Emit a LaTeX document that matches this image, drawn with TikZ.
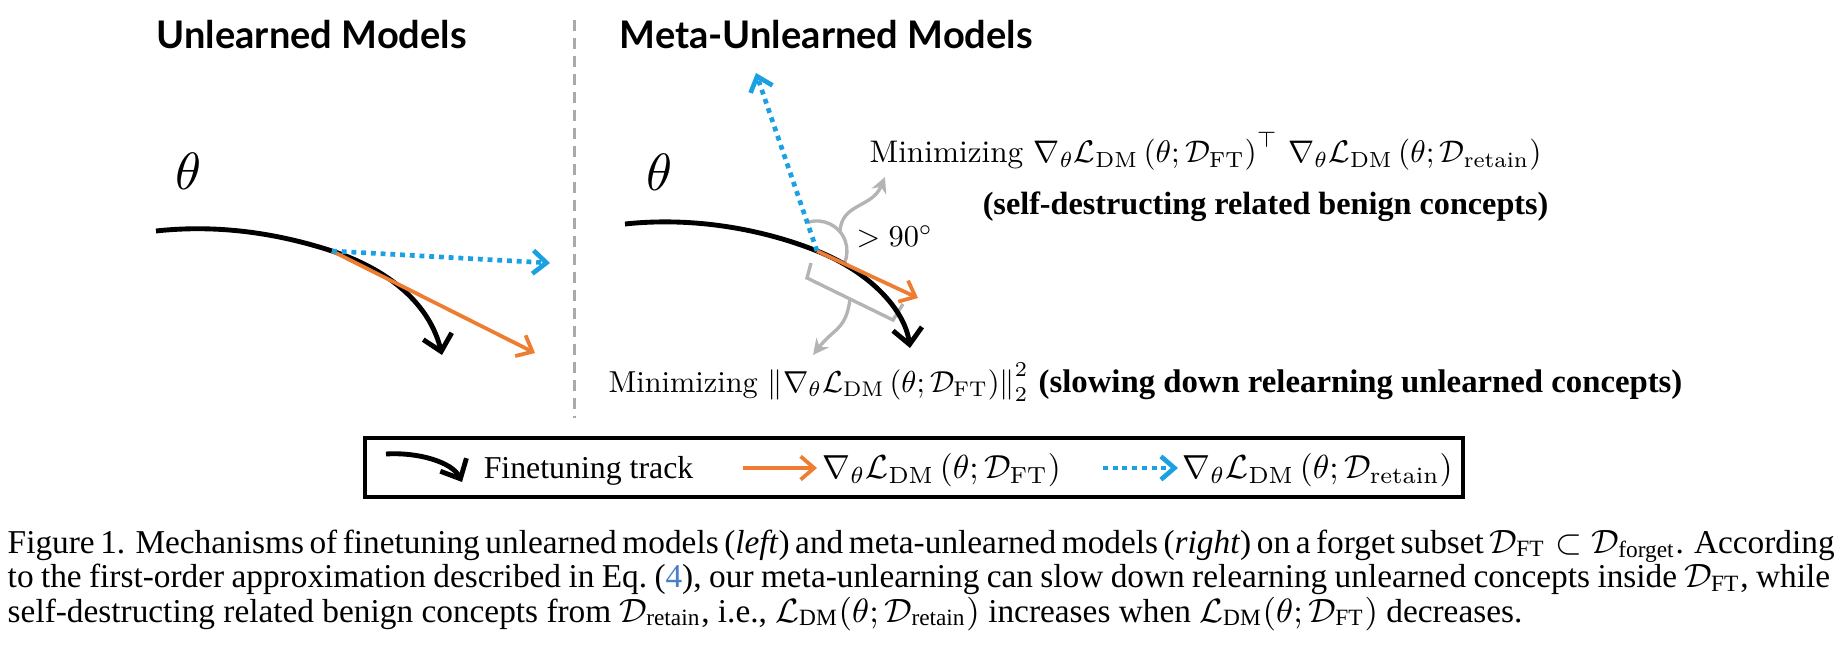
\documentclass[tikz,border=0pt]{standalone}
\usepackage{amsmath,amssymb}
\usepackage{fontspec}
\usetikzlibrary{arrows.meta,positioning,calc}
\newfontfamily\capfont{Liberation Serif}
\newfontfamily\headfont{Lato}
\definecolor{gradorange}{HTML}{ED7D31}
\definecolor{gradblue}{HTML}{1BA1E2}
\definecolor{guidegray}{HTML}{B4B4B4}
\definecolor{dividergray}{HTML}{AAAAAA}
\definecolor{refblue}{HTML}{4A7EC8}
\newcommand{\gradL}[1]{\nabla_{\theta}\mathcal{L}_{\mathrm{DM}}\left(\theta;\mathcal{D}_{\mathrm{#1}}\right)}
\newcommand{\capline}[1]{\makebox[486.6pt][s]{#1}}
\tikzset{
  track/.style={draw=black,line width=1.3pt,-{Straight Barb[length=4.2pt,width=7.8pt]}},
  gradft/.style={draw=gradorange,line width=1pt,-{Straight Barb[length=3.6pt,width=6.2pt]}},
  gradret/.style={draw=gradblue,line width=1.25pt,dash pattern=on 1.3pt off 1.3pt,
    -{Straight Barb[length=3.6pt,width=6.2pt]}},
  guide/.style={draw=guidegray,line width=0.9pt},
  guidearrow/.style={guide,-{Stealth[length=4.2pt,width=4.2pt]}},
  divider/.style={draw=dividergray,line width=0.8pt,dash pattern=on 3pt off 1.8pt},
  legendframe/.style={draw=black,line width=1.1pt},
  heading/.style={font=\headfont\bfseries\fontsize{10.15}{12}\selectfont,anchor=base west,inner sep=0pt},
  thetalabel/.style={inner sep=0pt,scale=1.4},
  eqlabel/.style={anchor=base west,inner sep=0pt,scale=0.81},
  notelabel/.style={anchor=base west,inner sep=0pt,font=\capfont\bfseries\fontsize{8.6}{10}\selectfont},
  legendtext/.style={anchor=base west,inner sep=0pt,font=\capfont\fontsize{8.5}{10}\selectfont},
  legendeq/.style={anchor=base west,inner sep=0pt,scale=0.89},
  captext/.style={anchor=base west,inner sep=0pt,align=left,
    font=\capfont\fontsize{8.9}{9.2}\selectfont}
}
\begin{document}
\begin{tikzpicture}[x=0.267pt,y=-0.267pt]
  \useasboundingbox (0,0) rectangle (1843,655);
  % headings and divider
  \node[heading] (hleft) at (156,49) {Unlearned Models};
  \node[heading] (hright) at (619,49) {Meta-Unlearned Models};
  \coordinate (divtop) at (574,20);
  \coordinate (divbot) at (574,418);
  \draw[divider] (divtop) -- (divbot);

  % left: unlearned model
  \node[thetalabel] (thetaL) at (189,171) {$\theta$};
  \coordinate (startL) at (156,231);
  \coordinate (pL) at (332,251);
  \coordinate (endL) at (442,355);
  \coordinate (ftL) at (535,353);
  \coordinate (retL) at (550,263);
  \draw[track] (startL) .. controls (220,224) and (280,234) .. (pL)
    .. controls (390,270) and (430,305) .. (endL);
  \draw[gradft] (pL) -- (ftL);
  \draw[gradret] (pL) -- (retL);

  % right: meta-unlearned model
  \node[thetalabel] (thetaR) at (660,172) {$\theta$};
  \coordinate (startR) at (625,224);
  \coordinate (pR) at (817,251);
  \coordinate (endR) at (910,348);
  \coordinate (ftR) at (918,298);
  \coordinate (retR) at (756,73);
  \draw[guide] (807.2,222.6) arc[start angle=-109,end angle=25,radius=30];
  \draw[guide] (811,263) -- (807,278) -- (893,320) -- (903,304);
  \draw[guidearrow] (840,231) .. controls (842,203) and (872,208) .. (885,177);
  \draw[guidearrow] (850,299) .. controls (846,330) and (834,328) .. (813,355);
  \draw[track] (startR) .. controls (700,216) and (770,232) .. (pR)
    .. controls (870,272) and (905,310) .. (endR);
  \draw[gradft] (pR) -- (ftR);
  \draw[gradret] (pR) -- (retR);
  \node[eqlabel] (angle) at (856,247) {$>90^\circ$};
  \node[eqlabel,scale=1.03] (mintop) at (869,163) {Minimizing $\gradL{FT}^{\top}\,\gradL{retain}$};
  \node[notelabel] (notetop) at (982,215) {(self-destructing related benign concepts)};
  \node[eqlabel] (minbot) at (608,392) {Minimizing $\left\|\gradL{FT}\right\|_2^2$
    {\capfont\bfseries\fontsize{10.8}{12}\selectfont (slowing down relearning unlearned concepts)}};

  % legend
  \draw[legendframe] (365,438) rectangle (1463,497);
  \coordinate (lgtA) at (386,454);
  \coordinate (lgtB) at (462,482);
  \coordinate (lgfA) at (743,468);
  \coordinate (lgfB) at (817,468);
  \coordinate (lgrA) at (1103,468);
  \coordinate (lgrB) at (1178,468);
  \draw[track] (lgtA) .. controls (418,452) and (452,462) .. (lgtB);
  \draw[gradft] (lgfA) -- (lgfB);
  \draw[gradret] (lgrA) -- (lgrB);
  \node[legendtext] (lgtrack) at (483,478) {Finetuning track};
  \node[legendeq] (lgft) at (822,478) {$\gradL{FT}$};
  \node[legendeq] (lgret) at (1182,478) {$\gradL{retain}$};

  % caption (anchored at its last baseline)
  \node[captext] (caption) at (7,622) {\capline{Figure 1. Mechanisms of finetuning unlearned models (\textit{left}) and meta-unlearned models (\textit{right}) on a forget subset $\mathcal{D}_{\text{FT}}\subset\mathcal{D}_{\text{forget}}$. According}\\
    \capline{to the first-order approximation described in Eq.~(\textcolor{refblue}{4}), our meta-unlearning can slow down relearning unlearned concepts inside $\mathcal{D}_{\text{FT}}$, while}\\
    self-destructing related benign concepts from $\mathcal{D}_{\text{retain}}$, i.e., $\mathcal{L}_{\text{DM}}(\theta;\mathcal{D}_{\text{retain}})$ increases when $\mathcal{L}_{\text{DM}}(\theta;\mathcal{D}_{\text{FT}})$ decreases.};
\end{tikzpicture}
\end{document}
